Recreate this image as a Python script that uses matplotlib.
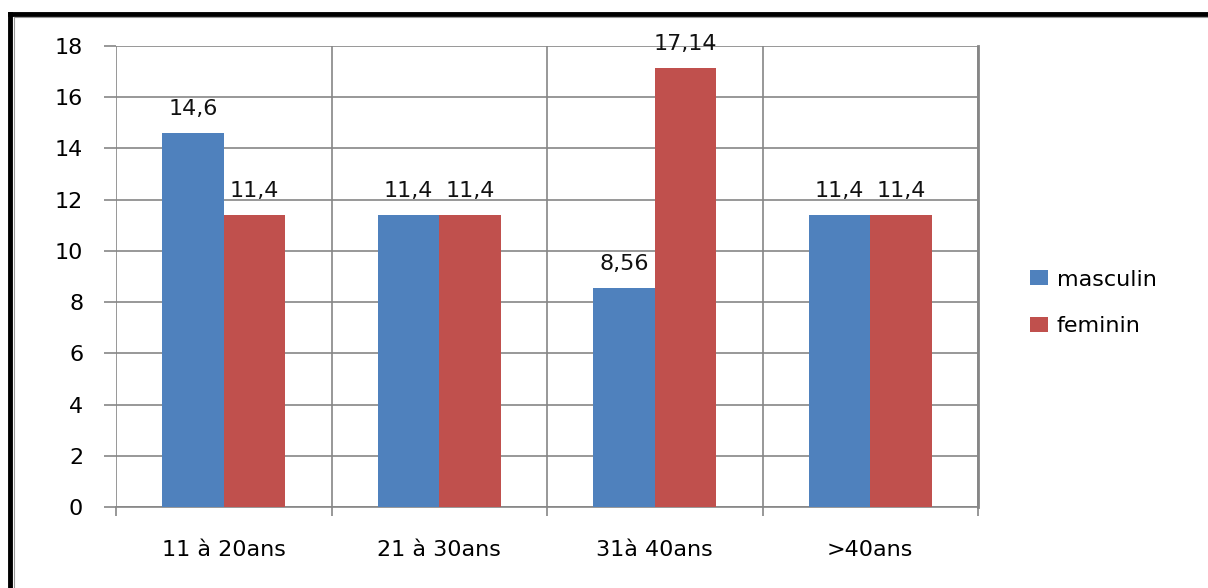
import matplotlib.pyplot as plt
from matplotlib.lines import Line2D
import numpy as np

categories = ['11 à 20ans', '21 à 30ans', '31à 40ans', '>40ans']
masculin = [14.6, 11.4, 8.56, 11.4]
feminin = [11.4, 11.4, 17.14, 11.4]
labels_m = ['14,6', '11,4', '8,56', '11,4']
labels_f = ['11,4', '11,4', '17,14', '11,4']

blue = '#4F81BD'
red = '#C0504D'
grid_c = '#868686'
fs = 16

fig = plt.figure(figsize=(12.08, 5.88), dpi=100)
ax = fig.add_axes([116 / 1208, 1 - 507 / 588, (978 - 116) / 1208, (507 - 46) / 588])

x = np.arange(len(categories))
w = 1 / 3.5
b1 = ax.bar(x - w / 2, masculin, width=w, color=blue, label='masculin', zorder=3)
b2 = ax.bar(x + w / 2, feminin, width=w, color=red, label='feminin', zorder=3)

for bars, labs in [(b1, labels_m), (b2, labels_f)]:
    for rect, t in zip(bars, labs):
        ax.text(rect.get_x() + rect.get_width() / 2, rect.get_height() + 0.7, t,
                ha='center', va='baseline', fontsize=fs, color='#111111')

ax.set_xlim(-0.5, len(categories) - 0.5)
ax.set_ylim(0, 18)
ax.set_yticks(range(0, 19, 2))
ax.set_xticks(x)
ax.set_xticklabels(categories, fontsize=fs)
ax.set_xticks(np.arange(-0.5, len(categories)), minor=True)
ax.tick_params(axis='x', which='major', length=0, pad=24)
ax.tick_params(axis='x', which='minor', length=6.5, width=1.2, color=grid_c)
ax.tick_params(axis='y', length=8.6, width=1.2, color=grid_c, labelsize=fs, pad=15)

ax.yaxis.grid(True, color=grid_c, linewidth=1.2, zorder=0)
ax.xaxis.grid(True, which='minor', color=grid_c, linewidth=1.2, zorder=0)
ax.set_axisbelow(True)
for s in ['top', 'left']:
    ax.spines[s].set_visible(False)
ax.spines['bottom'].set_color(grid_c)
ax.spines['bottom'].set_linewidth(1.2)
ax.spines['right'].set_color(grid_c)
ax.spines['right'].set_linewidth(2)

fig.legend(handles=[b1, b2], labels=['masculin', 'feminin'], loc='center left',
           bbox_to_anchor=(1010 / 1208, 1 - 303 / 588), frameon=False, fontsize=fs,
           handlelength=0.8, handleheight=0.65, labelspacing=1.2, handletextpad=0.4)

# outer black frame (top and left edges visible in the reference)
fig.add_artist(Line2D([10 / 1208, 1.0], [1 - 14 / 588, 1 - 14 / 588],
                      transform=fig.transFigure, color='black', linewidth=3.5))
fig.add_artist(Line2D([10 / 1208, 10 / 1208], [0, 1 - 14 / 588],
                      transform=fig.transFigure, color='black', linewidth=3.5))
fig.add_artist(Line2D([14 / 1208, 1.0], [1 - 17 / 588, 1 - 17 / 588],
                      transform=fig.transFigure, color='#999999', linewidth=0.8))
fig.add_artist(Line2D([14 / 1208, 14 / 1208], [0, 1 - 17 / 588],
                      transform=fig.transFigure, color='#999999', linewidth=0.8))

fig.savefig('out.png', dpi=100)
